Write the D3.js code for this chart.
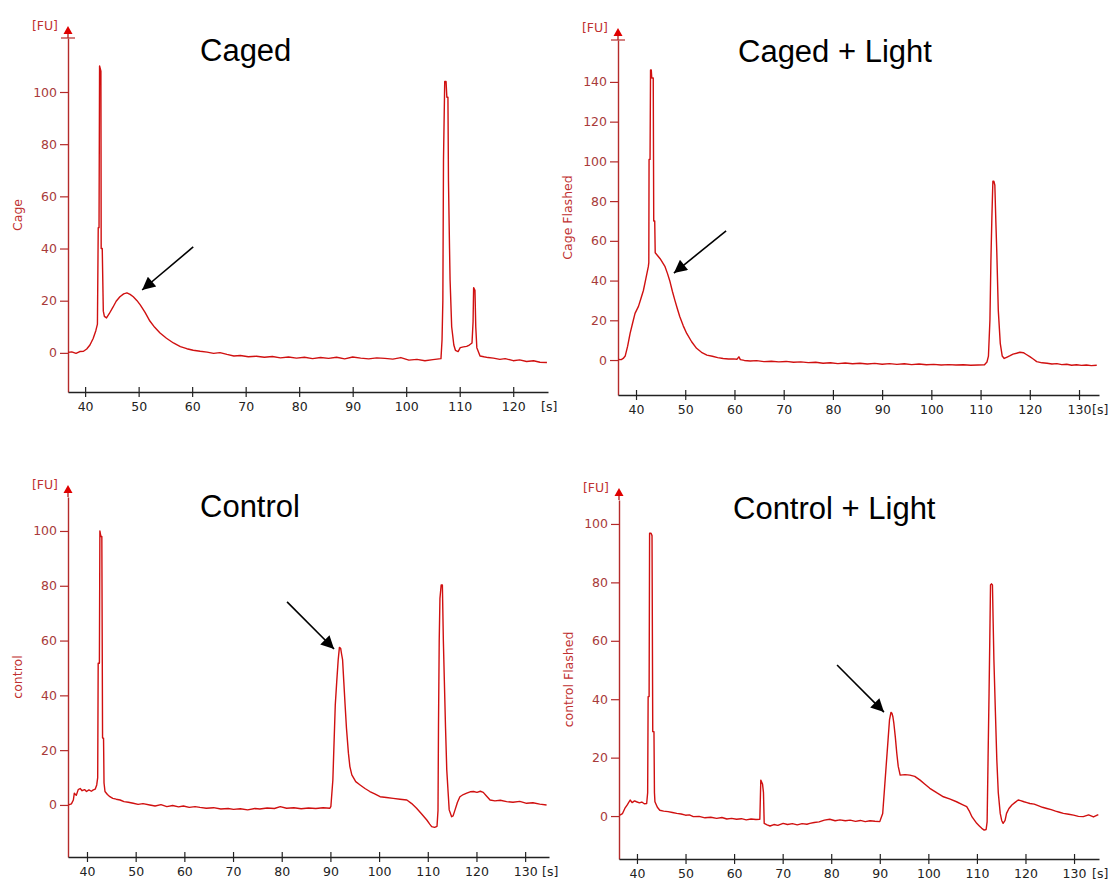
<!DOCTYPE html>
<html>
<head>
<meta charset="utf-8">
<script src="https://cdn.jsdelivr.net/npm/d3@7"></script>
<style>
  body { margin: 0; background: #fff; }
</style>
</head>
<body>
<script>
// ---- electropherogram traces: time [s] and fluorescence [FU] ----
var cagedTime = [36.8,37.5,38.3,39.0,39.7,40.3,40.9,41.5,42.0,42.3,42.45,42.6,42.7,42.95,43.0,43.2,43.4,43.6,44.0,44.5,45.2,45.8,46.5,47.2,47.8,48.4,49.0,49.7,50.3,51.2,52.1,53.0,54.0,55.2,56.5,57.8,59.0,60.2,61.5,62.8,64.0,65.2,66.5,67.8,69.0,70.5,72.0,73.5,75.0,76.5,78.0,79.5,81.0,82.5,84.0,85.5,87.0,88.5,90.0,91.5,93.0,94.5,96.0,97.5,99.0,100.5,102.0,103.5,105.0,106.5,106.7,106.85,106.97,107.2,107.45,107.6,107.8,107.9,108.1,108.2,108.5,108.9,109.2,109.7,110.1,110.7,111.3,111.8,112.3,112.5,112.6,112.85,113.0,113.2,113.8,114.5,115.3,116.3,117.5,118.5,120.0,121.2,122.5,123.8,125.0,126.3];
var cagedFU   = [0.2,0.4,-0.2,0.5,0.6,1.5,3,5.5,8.5,11,48,48,110,108,40,40,16,14,13.4,15,17.5,19.8,21.5,22.6,23,22.4,21.5,20,18.4,15.5,12.2,9.8,7.6,5.6,3.8,2.4,1.6,1.0,0.6,0.3,-0.2,0.1,-0.6,-1.2,-1.0,-1.5,-1.3,-1.7,-1.4,-1.9,-1.6,-2.0,-1.7,-2.2,-1.8,-2.1,-1.7,-2.3,-1.6,-2.0,-2.3,-1.9,-2.1,-2.4,-1.8,-2.8,-2.5,-3.0,-2.6,-2.2,5,20,74,104,104,98,98,66,40,28,10,3,1,0.5,2,2.3,2.5,3,3.8,12,25,24,10,2,-1.2,-1.5,-1.8,-2,-2.5,-2.2,-3,-2.7,-3.3,-3.0,-3.6,-3.7];

var cagedLightTime = [36.4,37.0,37.4,37.8,38.3,38.8,39.3,39.8,40.5,41.0,41.5,42.0,42.5,42.6,42.65,42.85,42.95,43.1,43.2,43.5,43.6,43.8,43.9,44.4,44.9,45.4,45.9,46.4,46.9,47.4,47.9,48.4,48.9,49.6,50.3,51.3,52.3,53.3,54.4,55.5,56.6,57.7,58.8,59.8,60.5,60.9,61.2,62.0,63.2,64.5,66.0,67.5,69.0,70.5,72.0,73.5,75.0,76.5,78.0,79.5,81.0,82.5,84.0,85.5,87.0,88.5,90.0,91.5,93.0,94.5,96.0,97.5,99.0,100.5,102.0,103.5,105.0,106.5,108.0,109.5,110.8,111.3,111.6,111.9,112.1,112.3,112.5,112.7,112.9,113.1,113.3,113.6,114.0,114.4,114.8,115.4,116.0,116.6,117.3,118.0,118.7,119.3,120.0,120.7,121.4,122.5,123.5,124.5,125.5,126.5,127.5,128.5,129.5,130.5,131.5,132.5,133.6];
var cagedLightFU   = [0.3,0.2,0.8,2,7,13.4,18.5,23.5,27,31,35,41,47,49,101,101,146,146,142,142,70,70,54,52.5,51,49,47,43.5,39.5,34.5,30,25.8,21.8,17.2,13.4,9.2,5.9,3.9,2.5,1.9,1.2,0.8,0.5,0.6,0.4,1.6,0.2,-0.2,-0.5,-0.3,-0.8,-0.6,-0.9,-0.7,-1.1,-0.9,-1.3,-1.1,-1.6,-1.4,-1.8,-1.5,-1.9,-1.6,-2.0,-1.7,-2.1,-1.8,-2.2,-1.9,-2.3,-2.0,-2.4,-2.2,-2.5,-2.3,-2.5,-2.4,-2.6,-2.5,-2.4,-1,2,20,50,72,90,90,88,70,54,25,8.4,2,0.8,1.5,2.2,3,3.4,3.9,3.7,2.8,1.7,0.5,-0.8,-1.4,-1.6,-2.0,-1.8,-2.3,-2.1,-2.6,-2.4,-2.7,-2.5,-2.8,-2.6];

var controlTime = [36.2,36.8,37.2,37.4,37.8,38.2,38.6,39.0,39.5,39.9,40.4,40.9,41.3,41.7,42.0,42.2,42.3,42.55,42.65,42.85,43.05,43.2,43.4,43.5,43.7,44.2,44.7,45.3,46.0,46.8,47.6,48.5,49.5,50.5,51.5,52.9,54.0,55.2,56.4,57.6,58.8,59.8,61.0,62.2,63.2,64.5,66.0,67.5,69.0,70.1,71.5,73.0,74.5,75.5,77.0,78.5,79.7,81.0,82.5,84.0,85.5,87.0,88.5,89.9,90.1,90.5,91.0,91.3,91.6,91.85,92.1,92.3,92.5,92.75,93.0,93.3,93.7,94.0,94.4,95.2,96.1,97.1,98.1,99.1,100.2,101.5,102.9,104.3,105.7,106.7,107.7,108.7,109.8,110.4,110.8,111.4,111.9,112.1,112.2,112.35,112.5,112.75,113.0,113.2,113.4,113.65,113.9,114.2,114.4,114.9,115.2,115.6,116.1,116.6,117.3,118.0,118.7,119.4,120.1,120.8,121.4,122.1,122.8,123.8,124.9,126.2,127.5,128.9,130.3,131.6,133.0,134.4];
var controlFU   = [0,0.4,1.8,4.3,3.5,5.6,6,5.2,5.6,4.9,5.5,5.0,5.5,5.8,7.3,10,51.7,51.7,100,98,98,24.4,24.4,8,4.9,3.8,3,2.4,2.1,1.8,1.2,1.0,0.6,0.2,0.5,0,-0.4,0.1,-0.6,-0.2,-0.7,-0.4,-0.9,-0.6,-0.9,-1.2,-1.0,-1.5,-1.3,-1.6,-1.4,-1.8,-1.3,-1.5,-1.1,-1.3,-0.6,-1.2,-1.0,-1.4,-1.1,-1.3,-1.0,-1.2,-0.5,9,36.5,45,53,57.5,57.2,55,53,45,37,28,18.9,14,11,8.5,7.3,6,4.9,4.0,3,2.7,2.4,2.1,1.8,0.5,-1.2,-3.2,-5.5,-7,-7.9,-8.2,-7.8,-2,28.6,60,75.4,80.3,80.3,60,45.6,28,12.8,4,-1.8,-4.3,-4.0,-1.8,1,3,3.8,4.3,4.8,4.9,4.6,5.0,4.6,3.2,1.8,1.5,1.7,1.2,1.0,1.3,0.6,0.8,0.3,0];

var controlLightTime = [36.5,37.0,37.5,38.0,38.6,39.0,39.5,39.9,40.5,41.0,41.5,42.0,42.2,42.3,42.5,42.6,42.9,43.1,43.25,43.5,43.6,43.7,44.2,44.7,45.5,46.4,47.3,48.2,49.1,50.0,50.8,51.6,52.8,54.0,55.2,56.4,57.5,58.5,59.5,60.5,61.5,62.5,63.5,64.5,65.3,65.5,65.85,66.05,66.2,66.8,67.4,68.2,69.0,70.1,71.0,72.0,73.0,74.0,75.0,75.6,76.5,77.5,78.6,79.7,80.8,81.8,82.9,83.9,85.0,86.0,87.0,88.0,89.0,90.0,90.3,90.6,91.0,91.3,91.7,92.0,92.3,92.5,92.7,92.9,93.2,93.5,93.8,94.2,95.2,96.2,97.2,98.3,99.3,100.3,101.7,103.1,104.5,105.8,106.9,107.9,108.5,109.0,109.96,110.5,111.0,111.5,111.9,112.1,112.3,112.5,112.65,112.8,113.0,113.2,113.35,113.5,113.8,114.1,114.4,114.8,115.1,115.4,115.8,116.1,116.6,117.2,117.8,118.5,119.0,119.7,120.3,120.9,121.8,122.6,123.5,124.4,125.3,126.2,127.0,127.8,128.9,129.9,130.9,131.9,133.0,134.0,135.0];
var controlLightFU   = [0.3,0.8,2.6,3.8,5.5,4.6,5.2,4.9,4.5,4.8,4.2,4.3,8,40.9,40.9,96.8,96.8,96,28.9,28.9,8,4.9,3,2,1.7,1.5,1.2,0.9,0.7,0.3,0.4,-0.2,-0.1,-0.6,-0.4,-0.8,-0.5,-1.0,-0.8,-1.1,-0.9,-1.3,-1.0,-1.2,-1.1,12.3,11,8,-2.5,-3.0,-3.4,-2.9,-3.2,-2.5,-2.9,-2.6,-3.0,-2.6,-2.8,-2.5,-2.2,-2.0,-1.4,-1.1,-1.6,-1.3,-1.6,-1.4,-1.8,-1.5,-1.9,-1.6,-1.8,-1.9,-0.5,0.9,10,16.9,26,32.9,35.5,35.2,34,31.7,27,21.5,17,14,14.2,14,13.6,12.3,10.9,9.5,8,6.6,5.8,4.9,4.0,3.2,1.5,-0.3,-2.5,-3.4,-4.2,-4.8,-4.6,-2,20,42,60,79.1,79.5,79.1,66,53.4,36,19.2,8,0.9,-1.5,-2.5,-1.5,0.9,2.6,3.8,4.6,5.5,5.3,4.9,4.6,4.3,4.1,3.6,3.0,2.6,2.2,1.7,1.3,0.9,0.6,0.3,-0.1,-0.2,0.4,-0.3,0.5];

// tick values
var xTicksCaged = [40, 50, 60, 70, 80, 90, 100, 110, 120];
var xTicksLong  = [40, 50, 60, 70, 80, 90, 100, 110, 120, 130];
var yTicks100   = [0, 20, 40, 60, 80, 100];
var yTicks140   = [0, 20, 40, 60, 80, 100, 120, 140];

// arrow annotations [fromT, fromFU, toT, toFU]
var arrowCaged        = [60.2, 40.6, 50.65, 24.1];
var arrowCagedLight   = [58.3, 65.0, 47.7, 43.8];
var arrowControl      = [81.1, 74.1, 90.75, 56.9];
var arrowControlLight = [81.2, 51.7, 90.86, 35.6];

var svgWidth = 1109;
var svgHeight = 884;

var svg = d3.select("body")
    .append("svg")
    .attr("width", svgWidth)
    .attr("height", svgHeight)
    .style("font-family", "'Liberation Sans', Arial, sans-serif");

svg.append("defs").append("marker")
    .attr("id", "head")
    .attr("viewBox", "0 0 10 10")
    .attr("refX", 10)
    .attr("refY", 5)
    .attr("markerUnits", "userSpaceOnUse")
    .attr("markerWidth", 16)
    .attr("markerHeight", 13)
    .attr("orient", "auto")
    .append("path")
    .attr("d", "M0,0 L10,5 L0,10 Z")
    .attr("fill", "#000");

var panels = [
    { title: "Caged", titleX: 200, titleY: 61, ylabel: "Cage",
      time: cagedTime, fu: cagedFU, xTicks: xTicksCaged, yTicks: yTicks100, arrow: arrowCaged,
      axisX: 68, axisEnd: 548, xDomain: [36.8, 126.5], baseY: 392, topY: 38, yDomain: [-15, 120.7], topTick: true },
    { title: "Caged + Light", titleX: 738, titleY: 62, ylabel: "Cage Flashed",
      time: cagedLightTime, fu: cagedLightFU, xTicks: xTicksLong, yTicks: yTicks140, arrow: arrowCagedLight,
      axisX: 618, axisEnd: 1099, xDomain: [36.34, 134.06], baseY: 395, topY: 40, yDomain: [-17.6, 161.1], topTick: true },
    { title: "Control", titleX: 200, titleY: 517, ylabel: "control",
      time: controlTime, fu: controlFU, xTicks: xTicksLong, yTicks: yTicks100, arrow: arrowControl,
      axisX: 68, axisEnd: 549, xDomain: [36.1, 134.9], baseY: 857, topY: 497, yDomain: [-19, 112.4], topTick: false },
    { title: "Control + Light", titleX: 733, titleY: 519, ylabel: "control Flashed",
      time: controlLightTime, fu: controlLightFU, xTicks: xTicksLong, yTicks: yTicks100, arrow: arrowControlLight,
      axisX: 619, axisEnd: 1099, xDomain: [36.3, 135.14], baseY: 859, topY: 500, yDomain: [-14.7, 108.2], topTick: false }
];

var axisRed = "#b52a2a";
var labelRed = "#a83a3a";
var traceRed = "#d01010";

panels.forEach(function(p) {
    var g = svg.append("g");

    var x = d3.scaleLinear().domain(p.xDomain).range([p.axisX, p.axisEnd]);
    var y = d3.scaleLinear().domain(p.yDomain).range([p.baseY, p.topY]);

    // y axis (red) with arrow on top
    var yAxis = g.append("g")
        .attr("transform", "translate(" + p.axisX + ",0)")
        .call(d3.axisLeft(y).tickValues(p.yTicks).tickSize(8).tickSizeOuter(0).tickPadding(3));
    yAxis.select(".domain").attr("stroke", axisRed).attr("stroke-width", 1.4);
    yAxis.selectAll(".tick line").attr("stroke", axisRed).attr("stroke-width", 1.2);
    yAxis.selectAll(".tick text")
        .attr("fill", labelRed)
        .style("font-family", "'DejaVu Sans', sans-serif")
        .style("font-size", "12.5px");

    g.append("line")
        .attr("x1", p.axisX).attr("x2", p.axisX)
        .attr("y1", p.topY).attr("y2", p.topY - 6)
        .attr("stroke", axisRed).attr("stroke-width", 1.4);
    g.append("path")
        .attr("d", "M" + (p.axisX - 4.5) + "," + (p.topY - 4) + " L" + p.axisX + "," + (p.topY - 12) +
                   " L" + (p.axisX + 4.5) + "," + (p.topY - 4) + " Z")
        .attr("fill", "#e00000");
    if (p.topTick) {
        g.append("line")
            .attr("x1", p.axisX - 7).attr("x2", p.axisX + 7)
            .attr("y1", p.topY).attr("y2", p.topY)
            .attr("stroke", axisRed).attr("stroke-width", 1.2);
    }

    g.append("text")
        .attr("x", p.axisX - 10)
        .attr("y", p.topY - 8)
        .attr("text-anchor", "end")
        .attr("fill", "#c03030")
        .style("font-family", "'DejaVu Sans', sans-serif")
        .style("font-size", "12.5px")
        .text("[FU]");

    g.append("text")
        .attr("transform", "translate(" + (p.axisX - 50) + "," + ((p.baseY + p.topY) / 2) + ") rotate(-90)")
        .attr("text-anchor", "middle")
        .attr("dy", "0.35em")
        .attr("fill", "#c03030")
        .style("font-family", "'DejaVu Sans', sans-serif")
        .style("font-size", "12.5px")
        .text(p.ylabel);

    // x axis (black), ticks crossing the line
    var xAxis = g.append("g")
        .attr("transform", "translate(0," + p.baseY + ")")
        .call(d3.axisBottom(x).tickValues(p.xTicks).tickSize(5).tickSizeOuter(0).tickPadding(5));
    xAxis.select(".domain").attr("stroke", "#222").attr("stroke-width", 1.4);
    xAxis.selectAll(".tick line").attr("y1", -5).attr("stroke", "#222").attr("stroke-width", 1.2);
    xAxis.selectAll(".tick text")
        .attr("fill", "#222")
        .style("font-family", "'DejaVu Sans', sans-serif")
        .style("font-size", "12.5px");

    g.append("text")
        .attr("x", p.axisEnd - 7)
        .attr("y", p.baseY + 19)
        .attr("fill", "#222")
        .style("font-family", "'DejaVu Sans', sans-serif")
        .style("font-size", "12.5px")
        .text("[s]");

    // trace
    var pts = p.time.map(function(t, i) { return [t, p.fu[i]]; });
    var line = d3.line()
        .x(function(d) { return x(d[0]); })
        .y(function(d) { return y(d[1]); });
    g.append("path")
        .datum(pts)
        .attr("d", line)
        .attr("fill", "none")
        .attr("stroke", traceRed)
        .attr("stroke-width", 1.4)
        .attr("stroke-linejoin", "round");

    // pointer arrow
    g.append("line")
        .attr("x1", x(p.arrow[0])).attr("y1", y(p.arrow[1]))
        .attr("x2", x(p.arrow[2])).attr("y2", y(p.arrow[3]))
        .attr("stroke", "#000")
        .attr("stroke-width", 1.6)
        .attr("marker-end", "url(#head)");

    // panel title
    g.append("text")
        .attr("x", p.titleX)
        .attr("y", p.titleY)
        .attr("fill", "#000")
        .style("font-size", "31px")
        .text(p.title);
});
</script>
</body>
</html>
